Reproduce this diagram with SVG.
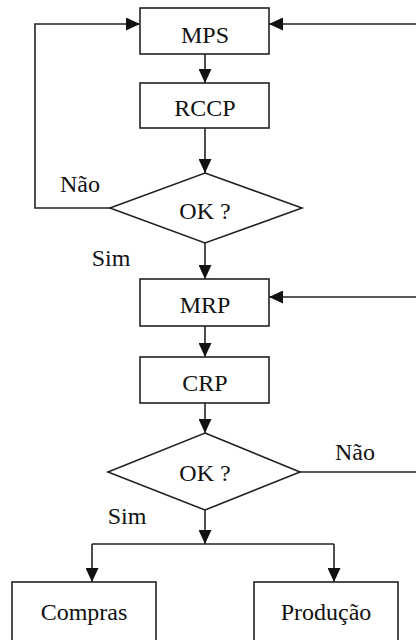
<svg xmlns="http://www.w3.org/2000/svg" width="416" height="640" viewBox="0 0 416 640">
  <style>
    .box { fill: #ffffff; stroke: #222222; stroke-width: 1.6; }
    .edge { fill: none; stroke: #222222; stroke-width: 1.6; }
    .lbl { font-family: 'Liberation Serif', 'Times New Roman', 'DejaVu Serif', serif; font-size: 24px; fill: #111111; text-anchor: middle; }
  </style>
  <defs>
    <marker id="arrow" markerUnits="userSpaceOnUse" markerWidth="14" markerHeight="13" refX="14" refY="6.5" orient="auto">
      <path d="M0,0 L14,6.5 L0,13 Z" fill="#111111"/>
    </marker>
  </defs>

  <rect width="416" height="640" fill="#ffffff"/>

  <!-- connectors -->
  <g id="connectors">
    <line class="edge" x1="205" y1="54" x2="205" y2="83" marker-end="url(#arrow)"/>
    <line class="edge" x1="205" y1="128" x2="205" y2="173" marker-end="url(#arrow)"/>
    <polyline class="edge" points="110,208 35,208 35,24 140,24" marker-end="url(#arrow)"/>
    <line class="edge" x1="416" y1="24" x2="269" y2="24" marker-end="url(#arrow)"/>
    <line class="edge" x1="205" y1="243" x2="205" y2="279" marker-end="url(#arrow)"/>
    <line class="edge" x1="416" y1="297" x2="269" y2="297" marker-end="url(#arrow)"/>
    <line class="edge" x1="205" y1="326" x2="205" y2="357" marker-end="url(#arrow)"/>
    <line class="edge" x1="205" y1="403" x2="205" y2="433" marker-end="url(#arrow)"/>
    <line class="edge" x1="300" y1="472" x2="416" y2="472"/>
    <line class="edge" x1="205" y1="510" x2="205" y2="544" marker-end="url(#arrow)"/>
    <line class="edge" x1="92" y1="544" x2="334" y2="544"/>
    <line class="edge" x1="92" y1="544" x2="92" y2="582" marker-end="url(#arrow)"/>
    <line class="edge" x1="334" y1="544" x2="334" y2="582" marker-end="url(#arrow)"/>
    <text class="lbl" x="80" y="192">Não</text>
    <text class="lbl" x="111" y="266">Sim</text>
    <text class="lbl" x="355" y="460">Não</text>
    <text class="lbl" x="127" y="524">Sim</text>
  </g>

  <g id="mps">
    <rect class="box" x="140" y="8" width="129" height="46"/>
    <text class="lbl" x="205" y="43">MPS</text>
  </g>
  <g id="rccp">
    <rect class="box" x="140" y="83" width="129" height="45"/>
    <text class="lbl" x="205" y="116">RCCP</text>
  </g>
  <g id="check1">
    <polygon class="box" points="205,173 302,208 205,243 110,208"/>
    <text class="lbl" x="205" y="219">OK ?</text>
  </g>
  <g id="mrp">
    <rect class="box" x="140" y="279" width="129" height="47"/>
    <text class="lbl" x="205" y="313">MRP</text>
  </g>
  <g id="crp">
    <rect class="box" x="140" y="357" width="129" height="46"/>
    <text class="lbl" x="205" y="391">CRP</text>
  </g>
  <g id="check2">
    <polygon class="box" points="205,433 300,472 205,510 108,472"/>
    <text class="lbl" x="205" y="481">OK ?</text>
  </g>
  <g id="compras">
    <rect class="box" x="12" y="582" width="144" height="70"/>
    <text class="lbl" x="84" y="620">Compras</text>
  </g>
  <g id="producao">
    <rect class="box" x="254" y="582" width="144" height="70"/>
    <text class="lbl" x="326" y="620">Produção</text>
  </g>
</svg>
